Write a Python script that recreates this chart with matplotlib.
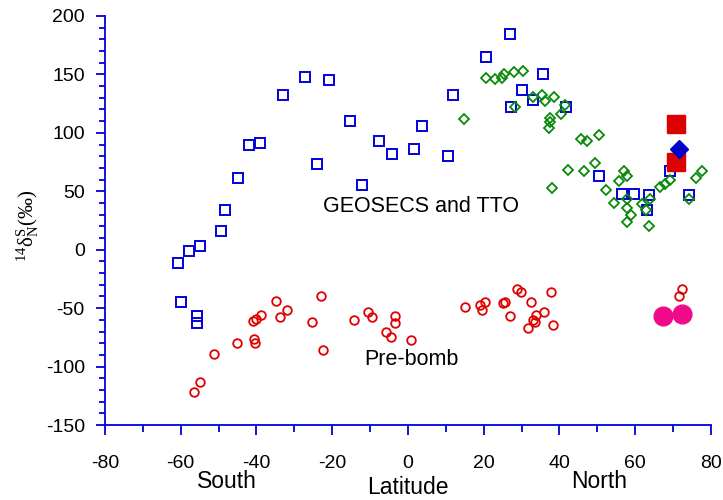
import matplotlib
matplotlib.use('Agg')
import matplotlib.pyplot as plt
from matplotlib.ticker import MultipleLocator
import matplotlib.transforms as mtransforms

plt.rcParams['font.family'] = ['Liberation Sans', 'DejaVu Sans']
plt.rcParams['axes.unicode_minus'] = False
plt.rcParams['mathtext.fontset'] = 'custom'
plt.rcParams['mathtext.rm'] = 'Liberation Serif'
plt.rcParams['mathtext.it'] = 'Liberation Serif:italic'

# GEOSECS and TTO - open blue squares
geo_lat = [-60.6, -57.7, -54.8, -49.5, -48.2, -44.8, -41.9, -39.0, -33.0, -27.2,
           -20.9, -24.0, -15.4, -12.2, -7.7, -4.1, 1.6, 3.8, 10.6, 11.9,
           20.6, 26.9, 27.2, 30.0, 35.6, 33.0, 41.6, 50.3, 56.4, 59.8,
           63.5, 63.2, 69.2, 74.2, -60.0, -55.8, -55.8]
geo_d14 = [-11, -1, 3, 16, 34, 61, 90, 91, 132, 148,
           145, 73, 110, 55, 93, 82, 86, 106, 80, 132,
           165, 185, 122, 137, 150, 128, 122, 63, 48, 48,
           47, 34, 67, 47, -45, -57, -63]

# TTO - open green diamonds
tto_lat = [14.9, 20.6, 23.0, 24.8, 25.4, 28.0, 30.4, 28.2, 33.0, 35.3,
           36.1, 38.5, 41.4, 40.3, 37.5, 37.5, 37.2, 45.6, 47.2, 50.3,
           49.3, 46.6, 42.2, 38.0, 52.4, 54.3, 55.6, 56.9, 57.7, 57.9,
           57.9, 59.0, 57.9, 61.9, 64.0, 62.9, 63.5, 66.6, 67.9, 69.2,
           74.2, 76.1, 77.6]
tto_d14 = [112, 147, 146, 147, 150, 152, 153, 122, 131, 132,
           127, 131, 124, 116, 113, 109, 104, 95, 93, 98,
           74, 67, 68, 53, 51, 40, 59, 67, 63, 43,
           36, 30, 24, 39, 43, 34, 20, 54, 56, 60,
           43, 61, 67]

# Pre-bomb - open red circles
pre_lat = [-56.6, -55.0, -51.1, -45.1, -40.6, -40.3, -40.9, -40.1, -38.8, -34.8,
           -33.8, -31.9, -25.4, -23.0, -22.5, -14.3, -10.6, -9.6, -5.9, -4.6,
           -3.3, -3.3, 0.9, 15.1, 19.0, 19.6, 20.4, 25.1, 25.6, 26.9,
           28.8, 29.8, 32.4, 35.9, 33.8, 33.0, 33.5, 31.7, 37.7, 38.2,
           71.6, 72.4]
pre_d14 = [-122, -113, -89, -80, -76, -80, -61, -59, -56, -44,
           -58, -52, -62, -40, -86, -60, -53, -58, -70, -75,
           -63, -57, -77, -49, -47, -52, -45, -46, -45, -57,
           -34, -36, -45, -53, -56, -60, -62, -67, -36, -64,
           -40, -34]

# new stations
new_sq_lat = [70.8, 70.8]
new_sq_d14 = [108, 75]
new_dia_lat = [71.6]
new_dia_d14 = [86]
new_circ_lat = [67.4, 72.4]
new_circ_d14 = [-57, -55]

axis_blue = '#0000E0'

fig = plt.figure(figsize=(7.23, 5.0), dpi=100)
ax = fig.add_axes([0.1452, 0.15, 0.8382, 0.818])

ax.plot(geo_lat, geo_d14, 's', ms=6.8, mfc='none', mec='#0000DD', mew=1.4, ls='none')
ax.plot(tto_lat, tto_d14, 'D', ms=5.3, mfc='none', mec='#0A8A0A', mew=1.3, ls='none')
ax.plot(pre_lat, pre_d14, 'o', ms=6.2, mfc='none', mec='#E00000', mew=1.3, ls='none')
ax.plot(new_sq_lat, new_sq_d14, 's', ms=13.5, color='#DD0000', ls='none')
ax.plot(new_dia_lat, new_dia_d14, 'D', ms=9.5, color='#0000CC', ls='none')
ax.plot(new_circ_lat, new_circ_d14, 'o', ms=13.5, color='#EE0A88', ls='none')

ax.text(3.5, 37, 'GEOSECS and TTO', fontsize=15.5, ha='center', va='center')
ax.text(1, -94, 'Pre-bomb', fontsize=15.5, ha='center', va='center')

ax.set_xlim(-80, 80)
ax.set_ylim(-150, 200)
ax.xaxis.set_major_locator(MultipleLocator(20))
ax.xaxis.set_minor_locator(MultipleLocator(10))
ax.yaxis.set_major_locator(MultipleLocator(50))
ax.yaxis.set_minor_locator(MultipleLocator(10))

for side in ['top', 'right']:
    ax.spines[side].set_visible(False)
for side in ['left', 'bottom']:
    ax.spines[side].set_color(axis_blue)
    ax.spines[side].set_linewidth(1.3)

ax.tick_params(axis='both', which='both', direction='out', color=axis_blue, width=1.3,
               labelsize=14, labelcolor='black')
ax.tick_params(axis='x', which='major', length=7.5, pad=14)
ax.tick_params(axis='x', which='minor', length=5)
ax.tick_params(axis='y', which='major', length=6.5, pad=8)
ax.tick_params(axis='y', which='minor', length=4)

ax.set_xlabel('Latitude', fontsize=16.5)
ax.xaxis.set_label_coords(0.5, (425 - 487) / 409)
ax.xaxis.label.set_va('center')

ax.set_ylabel(r'$^{\mathrm{14}}$δ$^{\mathrm{S}}_{\mathrm{N}}$(‰)', fontsize=15,
              family='Liberation Serif')
ax.yaxis.set_label_coords((28 - 105) / 606, 0.487)
ax.yaxis.label.set_va('center')

trans = mtransforms.blended_transform_factory(ax.transData, fig.transFigure)
ax.text(-47.9, 0.036, 'South', fontsize=16.5, ha='center', va='center', transform=trans)
ax.text(50.5, 0.036, 'North', fontsize=16.5, ha='center', va='center', transform=trans)

fig.savefig('out.png', dpi=100)
